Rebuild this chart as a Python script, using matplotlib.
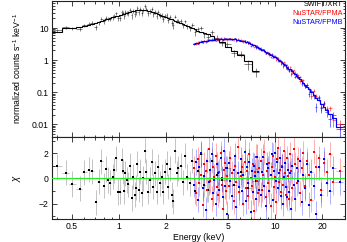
import numpy as np
import matplotlib
matplotlib.use('Agg')
import matplotlib.pyplot as plt
from matplotlib.ticker import FixedLocator, FixedFormatter, NullFormatter

plt.rcParams['font.family'] = ['Liberation Sans', 'DejaVu Sans']
plt.rcParams['mathtext.fontset'] = 'custom'
plt.rcParams['mathtext.rm'] = 'Liberation Sans'
plt.rcParams['mathtext.it'] = 'Liberation Sans:italic'

# ---------------- data ----------------
swift_energy = [0.40, 0.46, 0.50, 0.56, 0.60, 0.64, 0.67, 0.71, 0.74, 0.77,
                0.80, 0.83, 0.85, 0.88, 0.91, 0.93, 0.96, 0.99, 1.01, 1.04,
                1.06, 1.08, 1.10, 1.12, 1.15, 1.18, 1.21, 1.23, 1.26, 1.29,
                1.31, 1.34, 1.36, 1.40, 1.43, 1.47, 1.50, 1.54, 1.58, 1.62,
                1.66, 1.70, 1.74, 1.79, 1.83, 1.88, 1.92, 1.97, 2.02, 2.07,
                2.12, 2.18, 2.23, 2.29, 2.34, 2.40, 2.48, 2.56, 2.65, 2.74,
                2.84, 2.95, 3.07, 3.20, 3.35, 3.52, 3.72, 3.95, 4.22, 4.55,
                4.95, 5.45, 6.05, 6.70, 7.50]
swift_model = [7.7, 10.2, 10.3, 10.5, 11.5, 12.5, 13.3, 14.5, 15.5, 16.5,
               17.5, 18.5, 19.3, 20.3, 21.3, 22.0, 23.0, 24.0, 25.0, 26.0,
               27.0, 28.0, 29.0, 30.0, 31.0, 32.0, 33.0, 34.0, 35.0, 35.5,
               36.0, 36.5, 37.0, 37.0, 37.0, 36.5, 36.0, 35.0, 34.0, 32.5,
               31.0, 30.0, 28.5, 27.0, 26.0, 24.5, 23.5, 22.5, 21.5, 20.5,
               19.5, 18.5, 17.5, 16.5, 15.7, 15.0, 14.0, 13.0, 12.2, 11.4,
               10.6, 9.8, 9.0, 8.3, 7.6, 7.0, 6.3, 5.6, 4.6, 3.6,
               2.6, 1.9, 1.4, 0.95, 0.46]
swift_chi = [0.96, 0.44, -0.45, -0.81, 0.47, 0.70, 0.57, -1.90, -0.27, 1.35,
             -0.58, 0.75, -0.13, -0.34, 0.13, 0.65, 1.59, -1.09, -1.05, 1.43,
             0.57, -1.02, 0.39, -0.13, -0.47, 0.98, -1.56, 0.13, -1.30, -0.73,
             1.17, -0.91, 0.52, -1.17, 0.00, 2.20, 0.52, -1.05, -0.13, 1.30,
             -0.66, 0.39, -1.05, 0.90, -0.40, 0.13, -1.05, 0.52, 1.17, -0.66,
             0.78, -1.30, -1.83, 2.20, 0.39, 0.80, 1.00, -0.30, 1.80, 0.10,
             -0.40, 1.40, -1.00, 0.60, 1.90, -0.50, -0.90, 1.40, 0.30, -0.10,
             0.80, -0.50, 0.50, -0.80, -0.20]
swift_relerr = [0.12, 0.12, 0.12, 0.12, 0.13, 0.13, 0.13, 0.14, 0.14, 0.14,
                0.15, 0.15, 0.15, 0.15, 0.16, 0.16, 0.16, 0.16, 0.16, 0.16,
                0.16, 0.16, 0.16, 0.16, 0.16, 0.16, 0.16, 0.16, 0.16, 0.16,
                0.16, 0.16, 0.16, 0.16, 0.16, 0.16, 0.16, 0.16, 0.16, 0.16,
                0.16, 0.16, 0.16, 0.16, 0.16, 0.16, 0.17, 0.17, 0.17, 0.17,
                0.17, 0.17, 0.17, 0.17, 0.17, 0.17, 0.18, 0.18, 0.18, 0.18,
                0.18, 0.18, 0.18, 0.19, 0.19, 0.20, 0.20, 0.21, 0.22, 0.22,
                0.23, 0.24, 0.25, 0.27, 0.30]

nustar_energy = [3.04, 3.12, 3.20, 3.28, 3.36, 3.44, 3.52, 3.60, 3.68, 3.76,
                 3.84, 3.92, 4.00, 4.08, 4.16, 4.24, 4.32, 4.40, 4.48, 4.56,
                 4.64, 4.72, 4.80, 4.88, 4.96, 5.06, 5.18, 5.30, 5.42, 5.54,
                 5.66, 5.78, 5.90, 6.02, 6.14, 6.26, 6.38, 6.50, 6.62, 6.74,
                 6.86, 6.98, 7.10, 7.22, 7.34, 7.46, 7.58, 7.70, 7.82, 7.94,
                 8.08, 8.24, 8.40, 8.56, 8.72, 8.88, 9.04, 9.20, 9.36, 9.52,
                 9.68, 9.84, 10.00, 10.16, 10.32, 10.48, 10.64, 10.80, 10.96, 11.12,
                 11.28, 11.44, 11.60, 11.76, 11.92, 12.10, 12.30, 12.50, 12.70, 12.90,
                 13.15, 13.45, 13.75, 14.05, 14.40, 14.80, 15.20, 15.60, 16.05, 16.55,
                 17.10, 17.70, 18.35, 19.05, 19.80, 20.60, 21.50, 22.50, 23.60, 26.00]
nustar_model = [3.20, 3.35, 3.50, 3.60, 3.70, 3.80, 3.90, 3.98, 4.05, 4.12,
                4.18, 4.24, 4.30, 4.35, 4.40, 4.44, 4.48, 4.52, 4.55, 4.58,
                4.60, 4.62, 4.63, 4.64, 4.64, 4.62, 4.58, 4.53, 4.47, 4.40,
                4.32, 4.24, 4.15, 4.06, 3.98, 3.90, 3.82, 3.75, 3.68, 3.52,
                3.37, 3.23, 3.10, 2.97, 2.85, 2.74, 2.63, 2.53, 2.44, 2.35,
                2.23, 2.11, 2.00, 1.90, 1.80, 1.71, 1.62, 1.55, 1.47, 1.40,
                1.34, 1.28, 1.22, 1.16, 1.10, 1.03, 0.97, 0.91, 0.86, 0.81,
                0.77, 0.72, 0.68, 0.65, 0.61, 0.58, 0.54, 0.51, 0.47, 0.45,
                0.41, 0.365, 0.325, 0.29, 0.256, 0.222, 0.193, 0.169, 0.146, 0.124,
                0.103, 0.084, 0.068, 0.055, 0.0436, 0.0345, 0.027, 0.0204, 0.0152, 0.0080]
nustar_relerr = [0.04, 0.04, 0.04, 0.04, 0.04, 0.04, 0.04, 0.04, 0.04, 0.04,
                 0.04, 0.04, 0.04, 0.04, 0.04, 0.04, 0.04, 0.04, 0.04, 0.04,
                 0.04, 0.04, 0.04, 0.04, 0.04, 0.04, 0.04, 0.04, 0.04, 0.04,
                 0.04, 0.04, 0.04, 0.04, 0.04, 0.04, 0.04, 0.04, 0.05, 0.05,
                 0.05, 0.05, 0.05, 0.05, 0.05, 0.05, 0.05, 0.05, 0.05, 0.05,
                 0.05, 0.05, 0.05, 0.05, 0.05, 0.05, 0.06, 0.06, 0.06, 0.06,
                 0.06, 0.06, 0.06, 0.06, 0.07, 0.07, 0.07, 0.07, 0.07, 0.07,
                 0.08, 0.08, 0.08, 0.08, 0.08, 0.08, 0.09, 0.09, 0.09, 0.09,
                 0.09, 0.10, 0.10, 0.10, 0.11, 0.11, 0.12, 0.12, 0.13, 0.14,
                 0.15, 0.16, 0.17, 0.19, 0.21, 0.23, 0.26, 0.30, 0.35, 0.45]
fpma_chi = [0.8, -1.2, 1.5, -0.4, 0.3, -2.1, 1.1, 0.6, -0.9, 2.3,
            -0.2, -1.6, 0.9, 0.1, 1.8, -0.7, -1.3, 0.5, 2.0, -0.5,
            -2.4, 0.7, 1.2, -1.0, 0.2, -0.6, 1.6, 0.4, -1.8, 1.0,
            -0.3, 2.5, -1.1, 0.2, 0.9, -2.0, 1.3, -0.8, 0.6, -1.4,
            1.9, 0.0, -0.6, 1.1, -2.6, 0.5, 1.7, -0.2, -1.2, 0.8,
            1.4, -0.9, 0.3, 2.1, -1.5, 0.6, -0.4, 1.2, -2.2, 0.9,
            1.8, -0.7, 0.1, -1.9, 1.5, 2.4, -0.3, 0.7, -1.1, 1.0,
            -0.5, 2.2, 0.4, -1.3, 1.6, 0.2, -1.6, 1.9, 0.6, -0.8,
            2.3, 1.1, -0.4, 1.5, -1.2, 0.8, 2.0, -0.6, 1.4, 0.3,
            -1.7, 2.1, 0.9, 1.6, -0.9, 1.2, 0.5, 1.9, -0.3, 0.6]
fpmb_chi = [-0.5, 1.3, -1.7, 0.9, 2.0, -0.8, 0.2, -2.5, 1.4, -0.3,
            0.7, 1.9, -1.2, -0.1, -2.0, 1.1, 0.4, -0.9, 1.6, 0.0,
            -1.5, 2.2, -0.6, 0.8, -2.8, 1.2, -0.2, -1.4, 0.7, 1.8,
            -2.3, 0.4, -0.7, 1.5, -1.0, 0.3, 2.1, -1.8, 0.9, -0.4,
            1.3, -2.7, 0.6, -1.1, 1.0, 0.2, -1.6, 1.7, 0.5, -0.9,
            -1.3, 0.5, 1.7, -0.6, -2.2, 1.1, 0.8, -1.0, 0.3, 1.9,
            -1.7, 0.6, 2.0, -0.2, 1.3, -0.8, 0.4, 1.6, -1.4, 0.9,
            -2.0, 0.1, 1.2, -0.7, -1.5, 0.7, -1.1, 0.4, -2.4, 1.0,
            -0.5, -1.6, 0.8, -0.2, 1.4, -1.9, 0.3, -0.8, 1.1, -2.1,
            0.5, -0.6, -2.8, 0.9, -1.3, 1.5, -0.4, -1.0, 0.8, -0.3]

legend_labels = ['SWIFT/XRT', 'NuSTAR/FPMA', 'NuSTAR/FPMB']
xtick_values = [0.5, 1, 2, 5, 10, 20]
xtick_labels = ['0.5', '1', '2', '5', '10', '20']
ytick_values = [0.01, 0.1, 1, 10]
ytick_labels = ['0.01', '0.1', '1', '10']
chitick_values = [-2, 0, 2]
chitick_labels = ['\u22122', '0', '2']


def edges_from_centers(c):
    c = np.asarray(c, float)
    mid = np.sqrt(c[:-1] * c[1:])
    return np.concatenate([[c[0] ** 2 / mid[0]], mid, [c[-1] ** 2 / mid[-1]]])


# --------------- figure ---------------
W, H = 347, 242
fig = plt.figure(figsize=(W / 100, H / 100), dpi=100)
ax1 = fig.add_axes([52 / W, 1 - 137 / H, 293 / W, 136.5 / H])
ax2 = fig.add_axes([52 / W, 1 - 218.7 / H, 293 / W, 81.7 / H], sharex=ax1)

sets = [
    (swift_energy, swift_model, swift_chi, swift_relerr, 'black', 0.45),
    (nustar_energy, nustar_model, fpma_chi, nustar_relerr, '#ff0000', 0.55),
    (nustar_energy, nustar_model, fpmb_chi, nustar_relerr, '#0000ff', 0.55),
]

for E, model, chi, rel, col, ealpha in sets:
    E = np.asarray(E, float)
    model = np.asarray(model, float)
    chi = np.asarray(chi, float)
    rel = np.asarray(rel, float)
    edges = edges_from_centers(E)
    xerr = np.vstack([E - edges[:-1], edges[1:] - E])
    sigma = model * rel
    data = model + chi * sigma
    # top panel
    ax1.errorbar(E, data, yerr=sigma, xerr=xerr, fmt='none', ecolor=col,
                 elinewidth=0.55, alpha=ealpha + 0.15, capsize=0, zorder=2)
    ax1.stairs(model, edges, baseline=None, color=col, lw=0.8, zorder=3)
    # residual panel
    ax2.errorbar(E, chi, yerr=np.ones_like(chi), xerr=xerr, fmt='none',
                 ecolor=col, elinewidth=0.55, alpha=ealpha - 0.15, capsize=0, zorder=2)
    ax2.plot(E, chi, 's', color=col, ms=1.8, mew=0, zorder=3)

ax2.axhline(0, color='#22ee22', lw=0.8, zorder=4)

ax1.set_xscale('log')
ax1.set_yscale('log')
ax1.set_xlim(0.372, 28.1)
ax1.set_ylim(0.0040, 72)
ax2.set_ylim(-3.2, 3.28)

minor_x = [m * d for d in (0.1, 1, 10) for m in range(2, 10)]
minor_x = [v for v in minor_x if v not in xtick_values]
for ax in (ax1, ax2):
    ax.xaxis.set_major_locator(FixedLocator(xtick_values))
    ax.xaxis.set_minor_locator(FixedLocator(minor_x))
    ax.xaxis.set_minor_formatter(NullFormatter())
    ax.tick_params(which='both', direction='in', top=True, right=True,
                   labelsize=6.2, width=0.6, color='#222222', pad=2.5)
    ax.tick_params(which='major', length=3.5)
    ax.tick_params(which='minor', length=1.8)
    for s in ax.spines.values():
        s.set_linewidth(0.8)
        s.set_color('#222222')

ax1.tick_params(axis='x', labelbottom=False)
ax2.xaxis.set_major_formatter(FixedFormatter(xtick_labels))
ax2.tick_params(axis='x', pad=2.5)

ax1.yaxis.set_major_locator(FixedLocator(ytick_values))
ax1.yaxis.set_major_formatter(FixedFormatter(ytick_labels))
minor_y = [m * d for d in (0.001, 0.01, 0.1, 1, 10) for m in range(2, 10)]
ax1.yaxis.set_minor_locator(FixedLocator(minor_y))
ax1.yaxis.set_minor_formatter(NullFormatter())

ax2.yaxis.set_major_locator(FixedLocator(chitick_values))
ax2.yaxis.set_major_formatter(FixedFormatter(chitick_labels))
ax2.yaxis.set_minor_locator(FixedLocator([-3, -1, 1, 3]))

ax1.set_ylabel(r'normalized counts s$^{-1}$ keV$^{-1}$', fontsize=6.3)
ax2.set_ylabel(r'$\chi$', fontsize=7)
ax1.yaxis.set_label_coords((23 - 52) / 293, 0.5)
ax2.yaxis.set_label_coords((23 - 52) / 293, 0.5)
ax2.set_xlabel('Energy (keV)', fontsize=6.3)
ax2.xaxis.set_label_coords(0.5, -(237.5 - 218.7) / 81.7)
ax2.xaxis.label.set_va('center')

legend_colors = ['black', '#ff0000', '#0000ff']
for i, (lab, col) in enumerate(zip(legend_labels, legend_colors)):
    fig.text(343 / W, 1 - (5 + 8.7 * i) / H, lab, color=col, fontsize=5.2,
             ha='right', va='center')

fig.savefig('out.png', dpi=100)
